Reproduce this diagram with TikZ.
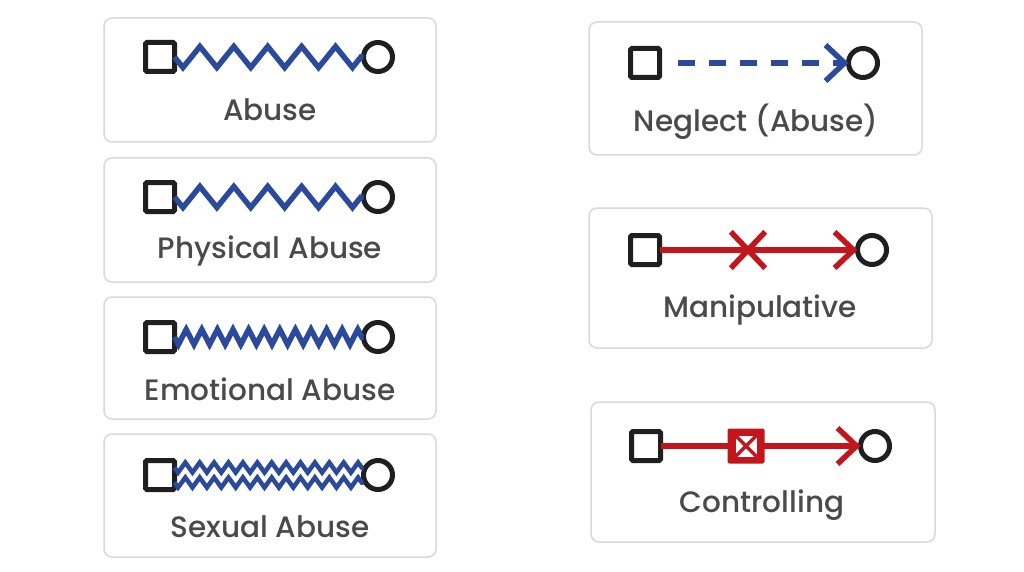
\documentclass[tikz,border=0pt]{standalone}
\usepackage{fontspec}
\setmainfont{Poppins}
\newfontfamily\captionface{Poppins Medium}
\usetikzlibrary{decorations.pathmorphing,arrows.meta}
\definecolor{abblue}{HTML}{2C4A9C}
\definecolor{abred}{HTML}{C3161C}
\definecolor{ink}{HTML}{1F1F1F}
\definecolor{labelgray}{HTML}{4A4A4A}
\definecolor{frame}{HTML}{D9D9D9}

\tikzset{
  card/.style={draw=frame, line width=1.5pt, rounded corners=8pt, fill=white},
  male/.style={draw=ink, line width=5pt, rounded corners=1.5pt, minimum size=29pt, inner sep=0pt, outer sep=0pt, rectangle},
  female/.style={draw=ink, line width=5pt, minimum size=29pt, inner sep=0pt, outer sep=0pt, circle},
  caption/.style={text=labelgray, font=\captionface\fontsize{29.5}{34}\selectfont},
  zig/.style n args={2}{draw=abblue, line width=5.5pt, line join=miter,
    decorate, decoration={zigzag, amplitude=#1, segment length=#2}},
  chevron/.style={-{Straight Barb[length=19pt, width=36pt]}},
  redlink/.style={draw=abred, line width=5.5pt},
}

\begin{document}
\begin{tikzpicture}[x=1pt, y=-1pt]
  \useasboundingbox (0,0) rectangle (1024,572);
  \fill[white] (0,0) rectangle (1024,572);

  % ---- left column cards ----
  \draw[card] (104,18) rectangle (436,142);
  \draw[card] (104,158) rectangle (436,282);
  \draw[card] (104,297) rectangle (436,419);
  \draw[card] (104,434) rectangle (436,557);

  % ---- right column cards ----
  \draw[card] (589,22) rectangle (922,155);
  \draw[card] (589,208) rectangle (932,348);
  \draw[card] (591,402) rectangle (935,542);

  % Abuse
  \node[male]   (s1) at (160,57) {};
  \node[female] (c1) at (378,57) {};
  \draw[zig={-10.5pt}{33.9pt}] (s1.east) -- (c1.west);
  \node[caption] (l1) at (270,110) {Abuse};

  % Physical Abuse
  \node[male]   (s2) at (160,197) {};
  \node[female] (c2) at (378,197) {};
  \draw[zig={-10.5pt}{33.9pt}] (s2.east) -- (c2.west);
  \node[caption] (l2) at (270,251) {Physical Abuse};

  % Emotional Abuse
  \node[male]   (s3) at (160,337) {};
  \node[female] (c3) at (378,337) {};
  \draw[zig={-7.5pt}{15.6pt}] (s3.east) -- (c3.west);
  \node[caption] (l3) at (270,389) {Emotional Abuse};

  % Sexual Abuse: doubled zigzag
  \node[male]   (s4) at (160,475) {};
  \node[female] (c4) at (378,475) {};
  \draw[zig={-5pt}{14.4pt}, line width=4.5pt] ([yshift=-7.5pt]s4.east) -- ([yshift=-7.5pt]c4.west);
  \draw[zig={-5pt}{14.4pt}, line width=4.5pt] ([yshift=7.5pt]s4.east) -- ([yshift=7.5pt]c4.west);
  \node[caption] (l4) at (270,527) {Sexual Abuse};

  % Neglect (Abuse)
  \node[male]   (s5) at (645,63) {};
  \node[female] (c5) at (863,63) {};
  \draw[draw=abblue, line width=5.5pt, chevron, dash pattern=on 17pt off 14pt]
    ([xshift=18pt]s5.east) -- (c5.west);
  \node[caption] (l5) at (756,122) {Neglect (Abuse)};

  % Manipulative
  \node[male]   (s6) at (645,250) {};
  \node[female] (c6) at (872,250) {};
  \draw[redlink, chevron] (s6.east) -- (c6.west);
  \node[minimum width=34pt, minimum height=36pt, inner sep=0pt] (x6) at (748,250) {};
  \draw[redlink] (x6.north west) -- (x6.south east);
  \draw[redlink] (x6.south west) -- (x6.north east);
  \node[caption] (l6) at (760,310) {Manipulative};

  % Controlling
  \node[male]   (s7) at (646,446) {};
  \node[female] (c7) at (875,446) {};
  \draw[redlink, chevron] (s7.east) -- (c7.west);
  \node[fill=abred, rounded corners=2pt, minimum width=37pt, minimum height=35pt, inner sep=0pt] (b7) at (746,446) {};
  \node[fill=white, minimum size=21pt, inner sep=0pt] (w7) at (b7.center) {};
  \draw[draw=abred, line width=3.5pt] (w7.north west) -- (w7.south east);
  \draw[draw=abred, line width=3.5pt] (w7.south west) -- (w7.north east);
  \node[caption] (l7) at (762,505) {Controlling};
\end{tikzpicture}
\end{document}
